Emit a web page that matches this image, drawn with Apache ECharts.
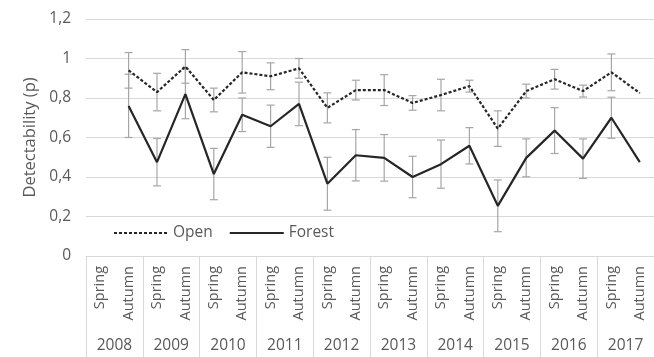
<!DOCTYPE html>
<html>
<head>
<meta charset="utf-8">
<script src="https://cdn.jsdelivr.net/npm/echarts@6/dist/echarts.min.js"></script>
<style>
  html, body { margin: 0; padding: 0; background: #fff; }
  #chart { width: 654px; height: 357px; }
</style>
</head>
<body>
<div id="chart"></div>
<script>
// Survey occasions: two seasons per year, 2008-2017
const years = ['2008', '2009', '2010', '2011', '2012', '2013', '2014', '2015', '2016', '2017'];
const seasons = ['Spring', 'Autumn'];
const categories = years.flatMap(() => seasons);

// Detectability estimates (p) per occasion; first occasion not surveyed
const openP = [null, 0.94, 0.83, 0.96, 0.79, 0.93, 0.91, 0.95, 0.75, 0.84, 0.84, 0.775, 0.815, 0.86, 0.645, 0.835, 0.895, 0.835, 0.93, 0.825];
const openErr = [null, 0.09, 0.095, 0.085, 0.06, 0.105, 0.068, 0.05, 0.076, 0.05, 0.078, 0.037, 0.08, 0.03, 0.09, 0.035, 0.05, 0.03, 0.093, null];
const forestP = [null, 0.76, 0.475, 0.82, 0.415, 0.715, 0.657, 0.77, 0.366, 0.51, 0.497, 0.40, 0.465, 0.558, 0.254, 0.497, 0.635, 0.493, 0.70, 0.475];
const forestErr = [null, 0.16, 0.12, 0.125, 0.13, 0.085, 0.107, 0.11, 0.134, 0.13, 0.118, 0.105, 0.122, 0.092, 0.131, 0.096, 0.116, 0.10, 0.104, null];

// Value axis ticks
const yTicks = [0, 0.2, 0.4, 0.6, 0.8, 1, 1.2];
const yTickLabels = ['0', '0,2', '0,4', '0,6', '0,8', '1', '1,2'];

const FONT = 'Open Sans';
const TEXT = '#595959';
const GRID = '#d9d9d9';
const LINE = '#262626';
const BAR = '#a6a6a6';

function errorData(p, err) {
  const out = [];
  p.forEach((v, i) => {
    if (v != null && err[i] != null) out.push([i, v - err[i], v + err[i]]);
  });
  return out;
}

function renderErrorBar(params, api) {
  const x = api.value(0);
  const lo = api.coord([x, api.value(1)]);
  const hi = api.coord([x, api.value(2)]);
  const cap = 4;
  const style = { stroke: BAR, lineWidth: 1.2, fill: null };
  return {
    type: 'group',
    children: [
      { type: 'line', shape: { x1: hi[0], y1: hi[1], x2: lo[0], y2: lo[1] }, style },
      { type: 'line', shape: { x1: hi[0] - cap, y1: hi[1], x2: hi[0] + cap, y2: hi[1] }, style },
      { type: 'line', shape: { x1: lo[0] - cap, y1: lo[1], x2: lo[0] + cap, y2: lo[1] }, style }
    ]
  };
}

const chart = echarts.init(document.getElementById('chart'), null, { renderer: 'canvas' });

chart.setOption({
  animation: false,
  backgroundColor: '#ffffff',
  textStyle: { fontFamily: FONT, color: TEXT },
  grid: { left: 86, top: 19, width: 578, height: 237, containLabel: false },
  legend: {
    left: 108,
    top: 220,
    itemWidth: 54,
    itemHeight: 14,
    itemGap: 16,
    data: ['Open', 'Forest'],
    itemStyle: { opacity: 0 },
    textStyle: { fontFamily: FONT, fontSize: 15.5, color: TEXT },
    selectedMode: false
  },
  xAxis: [
    {
      type: 'category',
      data: categories,
      position: 'bottom',
      axisLine: { show: true, lineStyle: { color: GRID, width: 1 } },
      axisTick: { show: false },
      axisLabel: {
        interval: 0,
        rotate: 90,
        margin: 10,
        fontFamily: FONT,
        fontSize: 14.5,
        color: TEXT
      }
    },
    {
      type: 'category',
      data: years,
      position: 'bottom',
      axisLine: { show: false },
      axisTick: { show: true, length: 101, lineStyle: { color: GRID, width: 1 } },
      axisLabel: {
        interval: 0,
        margin: 82,
        fontFamily: FONT,
        fontSize: 15.5,
        color: TEXT
      }
    }
  ],
  yAxis: {
    type: 'value',
    min: 0,
    max: 1.2,
    interval: 0.2,
    name: 'Detectability (p)',
    nameLocation: 'middle',
    nameGap: 46,
    nameTextStyle: { fontFamily: FONT, fontSize: 16.5, color: TEXT },
    axisLine: { show: false },
    axisTick: { show: false },
    axisLabel: {
      margin: 15,
      fontFamily: FONT,
      fontSize: 15.5,
      color: TEXT,
      formatter: v => {
        const k = yTicks.findIndex(t => Math.abs(t - v) < 1e-6);
        return k >= 0 ? yTickLabels[k] : '';
      }
    },
    splitLine: { show: true, lineStyle: { color: GRID, width: 1.2 } }
  },
  series: [
    {
      name: 'Open error',
      type: 'custom',
      xAxisIndex: 0,
      renderItem: renderErrorBar,
      encode: { x: 0, y: [1, 2] },
      data: errorData(openP, openErr),
      z: 1,
      silent: true
    },
    {
      name: 'Forest error',
      type: 'custom',
      xAxisIndex: 0,
      renderItem: renderErrorBar,
      encode: { x: 0, y: [1, 2] },
      data: errorData(forestP, forestErr),
      z: 1,
      silent: true
    },
    {
      name: 'Open',
      type: 'line',
      xAxisIndex: 0,
      data: openP,
      symbol: 'none',
      lineStyle: { color: LINE, width: 2.2, type: [3, 2] },
      itemStyle: { color: LINE },
      z: 3
    },
    {
      name: 'Forest',
      type: 'line',
      xAxisIndex: 0,
      data: forestP,
      symbol: 'none',
      lineStyle: { color: LINE, width: 2.2, type: 'solid' },
      itemStyle: { color: LINE },
      z: 3
    }
  ]
});
</script>
</body>
</html>
